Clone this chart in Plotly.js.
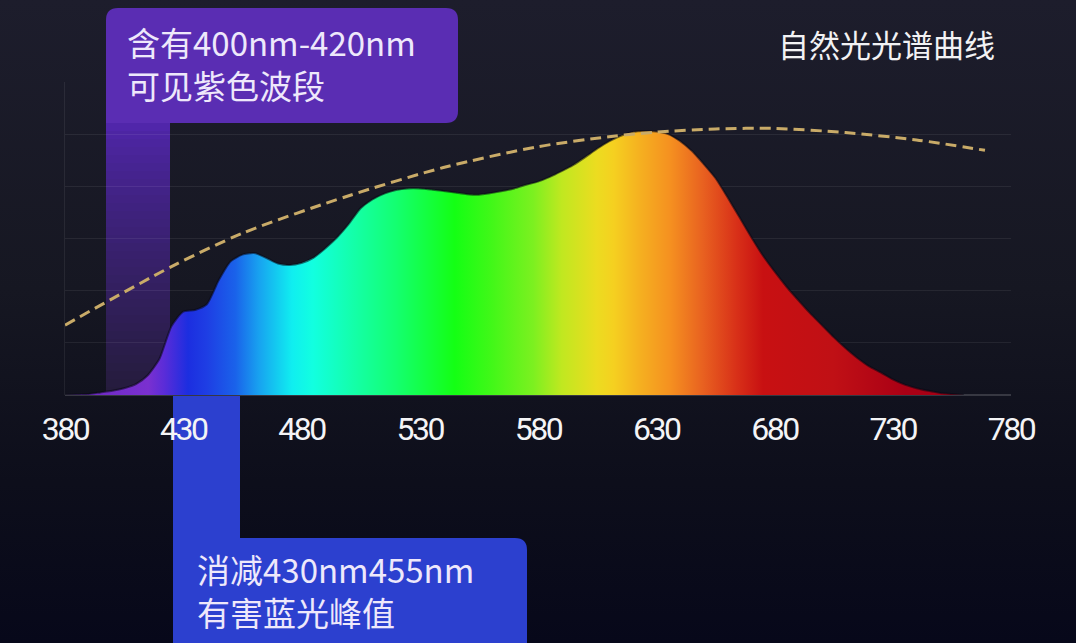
<!DOCTYPE html>
<html>
<head>
<meta charset="utf-8">
<script src="https://cdn.plot.ly/plotly-3.0.1.min.js"></script>
<style>
  html, body { margin: 0; padding: 0; width: 1076px; height: 643px; overflow: hidden; }
  body { background: linear-gradient(180deg, #1d1d2c 0%, #161722 45%, #0d0e1b 75%, #07081a 100%); }
  #chart { width: 1076px; height: 643px; }
  #chart .xtick text { letter-spacing: -2.5px; }
</style>
</head>
<body>
<div id="chart"></div>
<script>
// ---- data ----
const wavelengths = [380,385,390,395,400,405,410,415,420,425,430,435,440,445,450,455,460,465,470,475,480,485,490,495,500,505,510,515,520,525,530,535,540,545,550,555,560,565,570,575,580,585,590,595,600,605,610,615,620,625,630,635,640,645,650,655,660,665,670,675,680,685,690,695,700,705,710,715,720,725,730,735,740,745,750,755,760];
const spectrumValues = [0.00,0.01,0.02,0.05,0.08,0.13,0.21,0.38,0.70,1.32,1.60,1.63,1.74,2.20,2.56,2.69,2.72,2.63,2.52,2.49,2.53,2.63,2.81,3.02,3.28,3.58,3.75,3.86,3.93,3.96,3.96,3.94,3.91,3.88,3.85,3.84,3.87,3.91,3.96,4.03,4.09,4.18,4.29,4.41,4.56,4.72,4.86,4.97,5.04,5.06,5.05,5.00,4.87,4.68,4.43,4.16,3.80,3.42,3.04,2.68,2.37,2.08,1.82,1.57,1.34,1.11,0.90,0.71,0.55,0.43,0.30,0.20,0.13,0.08,0.04,0.02,0.00];
const naturalWavelengths = [380,425,455,500,540,580,610,630,655,680,710,740,769];
const naturalValues = [1.34,2.46,3.10,3.82,4.36,4.76,4.95,5.04,5.10,5.11,5.03,4.89,4.69];
const tickValues = [380,430,480,530,580,630,680,730,780];
const tickLabels = ['380','430','480','530','580','630','680','730','780'];
const legendText = '自然光光谱曲线';
const violetNote = ['含有400nm-420nm','可见紫色波段'];
const blueNote = ['消减430nm455nm','有害蓝光峰值'];

// ---- helpers (pixel -> paper) ----
const W = 1076, H = 643, L = 65, R = 65, T = 82, B = 248;
const PW = W - L - R, PH = H - T - B;
const px = v => (v - L) / PW;
const py = v => (H - B - v) / PH;

// spectrum colours along wavelength
const spectrumScale = [
  [0.000, '#6a28c0'],
  [0.088, '#7a30d0'],
  [0.105, '#5a2cd8'],
  [0.130, '#1c2ee0'],
  [0.150, '#1e3ee4'],
  [0.180, '#1a62ea'],
  [0.205, '#18a2f0'],
  [0.240, '#10eef0'],
  [0.262, '#12ffe0'],
  [0.312, '#14ffa0'],
  [0.350, '#14ff70'],
  [0.412, '#14ff14'],
  [0.450, '#40f818'],
  [0.495, '#7cf020'],
  [0.525, '#c0e820'],
  [0.562, '#ecdc20'],
  [0.580, '#f5d020'],
  [0.608, '#f5b020'],
  [0.640, '#f59020'],
  [0.675, '#e86020'],
  [0.710, '#d83018'],
  [0.738, '#c81012'],
  [0.812, '#c01015'],
  [0.888, '#aa0015'],
  [1.000, '#a00015']
];

const traces = [
  {
    x: wavelengths, y: spectrumValues, type: 'scatter', mode: 'lines',
    line: { shape: 'spline', smoothing: 0.6, color: 'rgba(8,8,20,0.55)', width: 2 },
    fill: 'tozeroy',
    fillgradient: { type: 'horizontal', start: 380, stop: 780, colorscale: spectrumScale },
    hoverinfo: 'skip', showlegend: false
  },
  {
    x: naturalWavelengths, y: naturalValues, type: 'scatter', mode: 'lines',
    line: { shape: 'spline', smoothing: 0.8, color: '#c9ab68', width: 3, dash: '11px,6px' },
    hoverinfo: 'skip', showlegend: false
  }
];

// ---- decorative callouts ----
const shapes = [];
function lerp(a, b, t) { return Math.round(a + (b - a) * t); }
// violet bar (fading downward)
const barTop = 123, barBot = 395, steps = 34;
const c0 = [80, 38, 170], c1 = [37, 28, 60];
for (let i = 0; i < steps; i++) {
  const y0 = barTop + (barBot - barTop) * i / steps;
  const y1 = barTop + (barBot - barTop) * (i + 1) / steps + 0.6;
  const t = Math.pow(i / (steps - 1), 0.8);
  const col = `rgb(${lerp(c0[0], c1[0], t)},${lerp(c0[1], c1[1], t)},${lerp(c0[2], c1[2], t)})`;
  shapes.push({ type: 'rect', xref: 'paper', yref: 'paper', layer: 'below',
    x0: px(106), x1: px(170), y0: py(Math.min(y1, barBot)), y1: py(y0),
    fillcolor: col, line: { width: 0 } });
}
// violet box with rounded corners
function roundBox(x0, y0, x1, y1, r) {
  const P = (x, y) => `${px(x)},${py(y)}`;
  return `M${P(x0, y1)} L${P(x0, y0 + r)} Q${P(x0, y0)} ${P(x0 + r, y0)} L${P(x1 - r, y0)} Q${P(x1, y0)} ${P(x1, y0 + r)} L${P(x1, y1 - r)} Q${P(x1, y1)} ${P(x1 - r, y1)} Z`;
}
shapes.push({ type: 'path', xref: 'paper', yref: 'paper', layer: 'below',
  path: roundBox(106, 8, 458, 123, 12), fillcolor: '#5a2db3', line: { width: 0 } });
// blue bar + box
(function () {
  const P = (x, y) => `${px(x)},${py(y)}`;
  const d = `M${P(173, 396)} L${P(240, 396)} L${P(240, 538)} L${P(515, 538)} Q${P(527, 538)} ${P(527, 550)} L${P(527, 650)} L${P(173, 650)} Z`;
  shapes.push({ type: 'path', xref: 'paper', yref: 'paper', layer: 'below',
    path: d, fillcolor: '#2c40cf', line: { width: 0 } });
})();

const cjk = '"Noto Sans CJK SC", "Noto Sans", sans-serif';
const annotations = [
  { text: violetNote.join('<br>'), x: px(125), y: py(63.5), xanchor: 'left', yanchor: 'middle' },
  { text: blueNote.join('<br>'), x: px(195), y: py(590.5), xanchor: 'left', yanchor: 'middle' },
].map(a => Object.assign(a, { xref: 'paper', yref: 'paper', showarrow: false, align: 'left',
  font: { family: cjk, size: 33, color: '#eee8fb' } }));
annotations.push({ text: legendText, x: px(886), y: py(43), xref: 'paper', yref: 'paper',
  xanchor: 'center', yanchor: 'middle', showarrow: false,
  font: { family: cjk, size: 31, color: '#f2f2f4' } });

const layout = {
  width: W, height: H,
  margin: { l: L, r: R, t: T, b: B, pad: 0 },
  paper_bgcolor: 'rgba(0,0,0,0)', plot_bgcolor: 'rgba(0,0,0,0)',
  showlegend: false,
  xaxis: {
    range: [380, 780], tickmode: 'array', tickvals: tickValues, ticktext: tickLabels,
    showgrid: false, zeroline: false, showline: false, ticks: '',
    ticklabelstandoff: 12,
    tickfont: { family: 'Roboto, "Noto Sans", sans-serif', size: 32, color: '#f4f4f6' },
    fixedrange: true
  },
  yaxis: {
    range: [0, 6], dtick: 1, showticklabels: false, ticks: '',
    showgrid: true, gridcolor: 'rgba(255,255,255,0.07)', gridwidth: 1,
    zeroline: true, zerolinecolor: 'rgba(255,255,255,0.16)', zerolinewidth: 2,
    showline: true, linecolor: 'rgba(255,255,255,0.07)', linewidth: 1,
    fixedrange: true
  },
  shapes: shapes,
  annotations: annotations
};

Plotly.newPlot('chart', traces, layout, { displayModeBar: false, staticPlot: true });
</script>
</body>
</html>
